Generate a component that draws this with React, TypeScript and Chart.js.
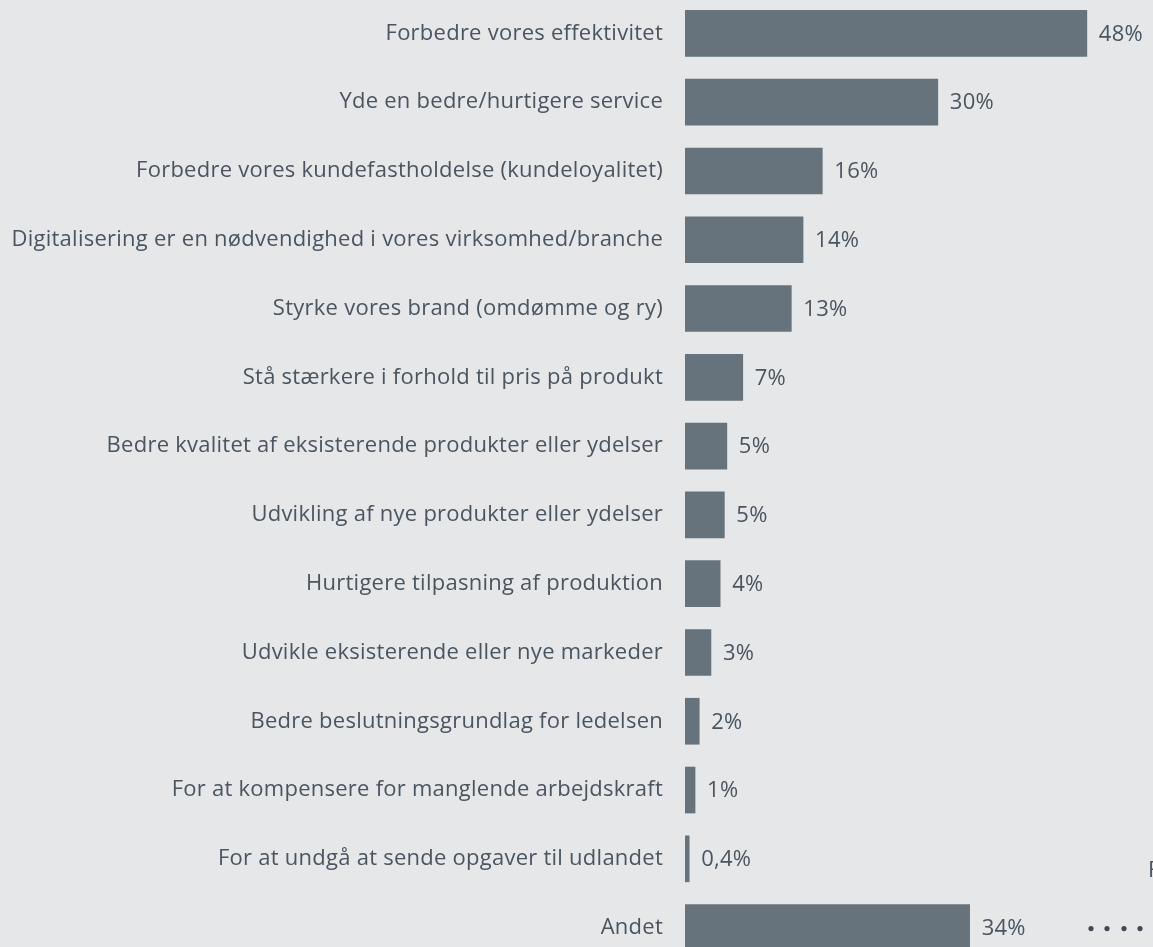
import React, { useEffect, useRef } from "react";
import { Chart, registerables } from "chart.js";

Chart.register(...registerables);

const categories = [
  "Forbedre vores effektivitet",
  "Yde en bedre/hurtigere service",
  "Forbedre vores kundefastholdelse (kundeloyalitet)",
  "Digitalisering er en nødvendighed i vores virksomhed/branche",
  "Styrke vores brand (omdømme og ry)",
  "Stå stærkere i forhold til pris på produkt",
  "Bedre kvalitet af eksisterende produkter eller ydelser",
  "Udvikling af nye produkter eller ydelser",
  "Hurtigere tilpasning af produktion",
  "Udvikle eksisterende eller nye markeder",
  "Bedre beslutningsgrundlag for ledelsen",
  "For at kompensere for manglende arbejdskraft",
  "For at undgå at sende opgaver til udlandet",
  "Andet",
];

const values = [48, 30.2, 16.4, 14.1, 12.7, 6.9, 5.0, 4.7, 4.2, 3.1, 1.7, 1.2, 0.5, 34];
const valueLabels = ["48%", "30%", "16%", "14%", "13%", "7%", "5%", "5%", "4%", "3%", "2%", "1%", "0,4%", "34%"];
const sideNote = "Flere svar mulige";

const FONT = "'Open Sans'";
const FONT_SIZE = 22;
const SPACING = "0.25px";
const TEXT = "#4a5560";
const BAR = "#66737c";
const BG = "#e6e7e8";

export default function App() {
  const ref = useRef<HTMLCanvasElement | null>(null);

  useEffect(() => {
    document.body.style.margin = "0";
    const canvas = ref.current;
    if (!canvas) return;

    const spacingPlugin = {
      id: "spacing",
      beforeDraw(chart: any) {
        (chart.ctx as any).letterSpacing = SPACING;
      },
    };

    const labelPlugin = {
      id: "valueLabels",
      afterDatasetsDraw(chart: any) {
        const ctx = chart.ctx;
        const meta = chart.getDatasetMeta(0);
        ctx.save();
        (ctx as any).letterSpacing = SPACING;
        ctx.font = `${FONT_SIZE}px ${FONT}`;
        ctx.fillStyle = TEXT;
        ctx.textAlign = "left";
        ctx.textBaseline = "middle";
        meta.data.forEach((el: any, i: number) => {
          ctx.fillText(valueLabels[i], el.x + 12, el.y + 1);
        });
        ctx.fillText(sideNote, 1148, 872);
        ctx.fillStyle = "#3d4a55";
        const yLast = meta.data[meta.data.length - 1].y;
        [1091, 1107, 1124, 1140].forEach((x) => {
          ctx.beginPath();
          ctx.arc(x, yLast + 1, 2.6, 0, Math.PI * 2);
          ctx.fill();
        });
        ctx.restore();
      },
    };

    const chart = new Chart(canvas, {
      type: "bar",
      data: {
        labels: categories,
        datasets: [
          {
            data: values,
            backgroundColor: BAR,
            borderWidth: 0,
            barThickness: 46,
          },
        ],
      },
      options: {
        indexAxis: "y",
        responsive: false,
        animation: false,
        layout: { padding: 0 },
        plugins: { legend: { display: false }, tooltip: { enabled: false } },
        scales: {
          x: { display: false, min: 0, max: 55.9 },
          y: {
            grid: { display: false, drawTicks: false },
            border: { display: false },
            ticks: {
              padding: 22,
              color: TEXT,
              font: { family: FONT, size: FONT_SIZE },
            },
            afterFit: (scale: any) => {
              scale.width = 685;
              scale.paddingTop = 0;
              scale.paddingBottom = 0;
            },
          },
        },
      },
      plugins: [spacingPlugin, labelPlugin],
    });
    return () => chart.destroy();
  }, []);

  return (
    <div style={{ position: "relative", width: 1153, height: 947, overflow: "hidden", background: BG }}>
      <canvas ref={ref} width={1153} height={963} style={{ position: "absolute", left: 0, top: -1 }} />
    </div>
  );
}
